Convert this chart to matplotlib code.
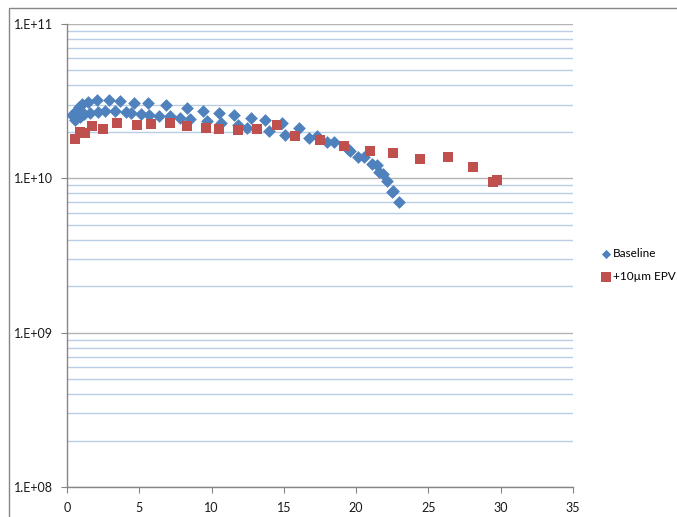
import math
import matplotlib
matplotlib.use("Agg")
from matplotlib import pyplot as plt
from matplotlib.patches import Rectangle
from matplotlib.ticker import LogLocator, FixedLocator, FuncFormatter, NullFormatter

plt.rcParams['font.family'] = ['Lato', 'DejaVu Sans']

# -----data-----#
baseline_x = [0.36, 0.60, 0.81, 1.02, 1.46, 2.06, 2.90, 3.70, 4.66, 5.61, 6.87, 8.30, 9.38,
              10.51, 11.56, 12.75, 13.68, 14.87, 16.06, 17.29,
              0.57, 0.87, 1.16, 1.61, 2.12, 2.66, 3.34, 4.09, 4.45, 5.11, 5.64, 6.39, 7.11,
              7.82, 8.54, 9.67, 10.63, 11.85, 12.45, 14.00, 15.11, 16.72, 17.95, 18.48,
              19.41, 19.59, 20.13, 20.51, 21.08, 21.41, 21.56, 21.89, 22.13, 22.45, 22.57, 22.93]
baseline_y = [2.56e10, 2.75e10, 2.89e10, 3.01e10, 3.12e10, 3.20e10, 3.20e10, 3.16e10, 3.09e10,
              3.06e10, 2.97e10, 2.85e10, 2.74e10, 2.66e10, 2.56e10, 2.46e10, 2.37e10, 2.27e10,
              2.11e10, 1.88e10,
              2.37e10, 2.49e10, 2.62e10, 2.67e10, 2.71e10, 2.75e10, 2.73e10, 2.70e10, 2.65e10,
              2.62e10, 2.58e10, 2.53e10, 2.52e10, 2.47e10, 2.41e10, 2.35e10, 2.28e10, 2.20e10,
              2.11e10, 2.02e10, 1.90e10, 1.82e10, 1.72e10, 1.73e10, 1.54e10, 1.51e10, 1.38e10,
              1.38e10, 1.23e10, 1.22e10, 1.10e10, 1.07e10, 9.58e9, 8.21e9, 8.33e9, 7.05e9]

epv_x = [0.57, 0.87, 1.22, 1.70, 2.48, 3.49, 4.84, 5.79, 7.14, 8.30, 9.64, 10.51, 11.85,
         13.17, 14.51, 15.80, 17.53, 19.14, 20.96, 22.54, 24.40, 26.34, 28.10, 29.47, 29.74]
epv_y = [1.79e10, 2.01e10, 1.98e10, 2.17e10, 2.10e10, 2.29e10, 2.22e10, 2.24e10, 2.27e10,
         2.18e10, 2.11e10, 2.10e10, 2.05e10, 2.09e10, 2.21e10, 1.89e10, 1.78e10, 1.61e10,
         1.51e10, 1.46e10, 1.33e10, 1.38e10, 1.19e10, 9.53e9, 9.82e9]

x_ticks = [0, 5, 10, 15, 20, 25, 30, 35]
series_labels = ["Baseline", "+10\u00b5m EPV"]

# -----plot-----#
fig = plt.figure(figsize=(6.77, 5.17), dpi=100)
ax = fig.add_axes([67 / 677, 1 - 487 / 517, (573 - 67) / 677, (487 - 24) / 517])

ax.set_yscale('log')
ax.set_ylim(1e8, 1e11)
ax.set_xlim(0, 35)

ax.yaxis.set_major_locator(LogLocator(base=10))
ax.yaxis.set_minor_locator(LogLocator(base=10, subs=[2, 3, 4, 5, 6, 7, 8, 9]))
ax.yaxis.set_major_formatter(FuncFormatter(lambda v, p: "1.E+%02d" % round(math.log10(v))))
ax.yaxis.set_minor_formatter(NullFormatter())
ax.xaxis.set_major_locator(FixedLocator(x_ticks))

ax.grid(True, which='minor', axis='y', color='#B9CDE5', linewidth=1.0)
ax.grid(True, which='major', axis='y', color='#B3B3B3', linewidth=1.0)
ax.set_axisbelow(True)

ax.scatter(baseline_x, baseline_y, marker='D', s=42, color='#4F81BD', linewidths=0,
           label=series_labels[0], zorder=3)
ax.scatter(epv_x, epv_y, marker='s', s=58, color='#C0504D', linewidths=0,
           label=series_labels[1], zorder=3)

for side in ['top', 'right']:
    ax.spines[side].set_visible(False)
for side in ['left', 'bottom']:
    ax.spines[side].set_color('#868686')
    ax.spines[side].set_linewidth(1.0)

ax.tick_params(axis='both', which='major', length=4, color='#868686', labelsize=9.0,
               labelcolor='#1a1a1a', direction='out')
ax.tick_params(axis='y', which='minor', length=0)
ax.tick_params(axis='y', pad=6)
ax.tick_params(axis='x', pad=7)

leg = fig.legend(loc='center left', bbox_to_anchor=(595 / 677, 1 - 265 / 517), frameon=False,
                 fontsize=8.5, handletextpad=0.0, handlelength=1.1, labelspacing=1.05,
                 borderaxespad=0)
leg.legend_handles[0].set_sizes([22])
leg.legend_handles[1].set_sizes([50])

# chart area frame
fig.patches.append(Rectangle((9 / 677, -0.1), 1.2, 1 - 8 / 517 + 0.1, transform=fig.transFigure,
                             fill=False, edgecolor='#868686', linewidth=1.0))

fig.savefig("out.png", dpi=100)
